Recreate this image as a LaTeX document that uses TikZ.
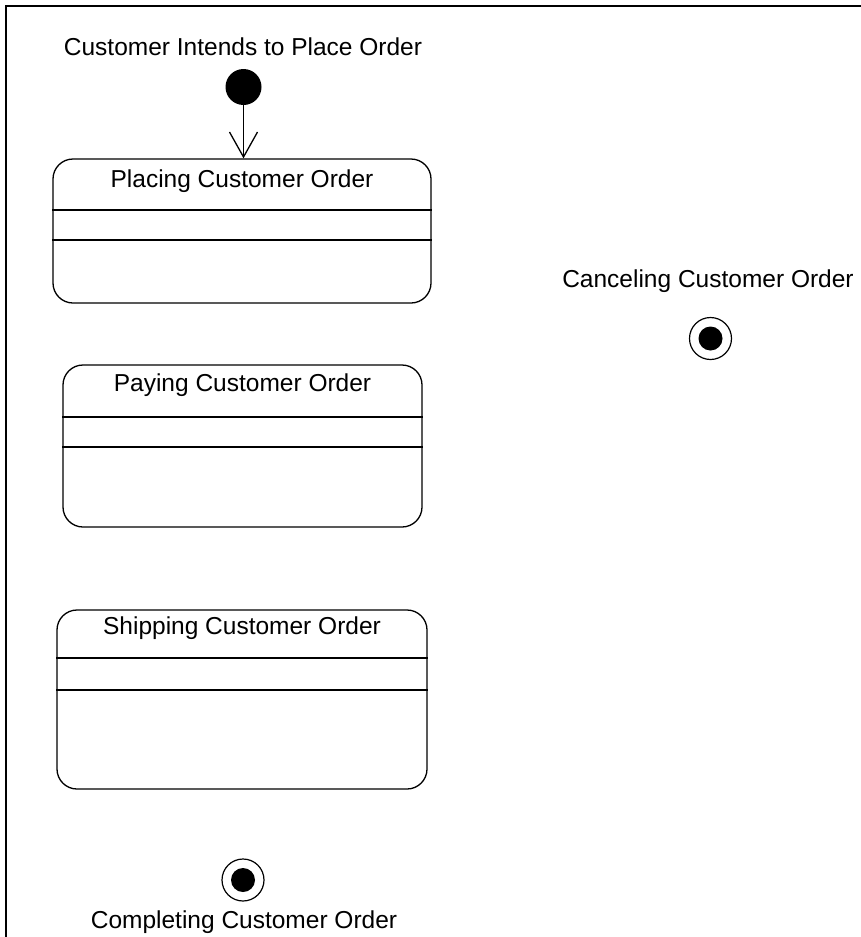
\documentclass[tikz,border=0pt]{standalone}
\usepackage{fontspec}
\setmainfont{Liberation Sans}
\usetikzlibrary{arrows.meta}
\tikzset{
  statebox/.style={draw, line width=1.3pt, rounded corners=20pt, inner sep=0pt},
  divider/.style={line width=1.3pt},
  lbl/.style={anchor=base, inner sep=0pt, font=\fontsize{24.5}{28}\selectfont},
  initstate/.style={circle, fill=black, inner sep=0pt, minimum size=36pt},
  finalouter/.style={circle, draw, line width=1.2pt, inner sep=0pt, minimum size=42pt},
  finalinner/.style={circle, fill=black, inner sep=0pt, minimum size=24pt},
  arr/.style={line width=1.3pt, -{Straight Barb[length=25pt, width=28pt, line width=1.3pt]}},
  frameline/.style={line width=2pt}
}
\begin{document}
\begin{tikzpicture}[x=1pt,y=-1pt]
\useasboundingbox (0,0) rectangle (861,937);
% frame
\coordinate (fTL) at (6,6);
\coordinate (fTR) at (861,6);
\coordinate (fBL) at (6,937);
\draw[frameline] (fTR) -- (fTL) -- (fBL);

% initial state
\node[lbl] (initlbl) at (243,55) {Customer Intends to Place Order};
\node[initstate] (init) at (243.5,87) {};

% states
\node[statebox, minimum width=378pt, minimum height=144pt] (placing) at (242,231) {};
\node[lbl] (placinglbl) at (242,187) {Placing Customer Order};
\draw[divider] (placing.west |- 0,210) -- (placing.east |- 0,210);
\draw[divider] (placing.west |- 0,240) -- (placing.east |- 0,240);

\node[statebox, minimum width=359pt, minimum height=162pt] (paying) at (242.5,446) {};
\node[lbl] (payinglbl) at (242.5,391) {Paying Customer Order};
\draw[divider] (paying.west |- 0,417) -- (paying.east |- 0,417);
\draw[divider] (paying.west |- 0,447) -- (paying.east |- 0,447);

\node[statebox, minimum width=370pt, minimum height=179pt] (shipping) at (242,699.5) {};
\node[lbl] (shippinglbl) at (242,634) {Shipping Customer Order};
\draw[divider] (shipping.west |- 0,658) -- (shipping.east |- 0,658);
\draw[divider] (shipping.west |- 0,690) -- (shipping.east |- 0,690);

% final states
\node[lbl] (cancellbl) at (708,287) {Canceling Customer Order};
\node[finalouter] (cancel) at (710.5,338.5) {};
\node[finalinner] (cancelin) at (cancel) {};

\node[finalouter] (complete) at (243,880) {};
\node[finalinner] (completein) at (complete) {};
\node[lbl] (completelbl) at (244,928) {Completing Customer Order};

% transition
\draw[arr] (init) -- (init |- placing.north);
\end{tikzpicture}
\end{document}
